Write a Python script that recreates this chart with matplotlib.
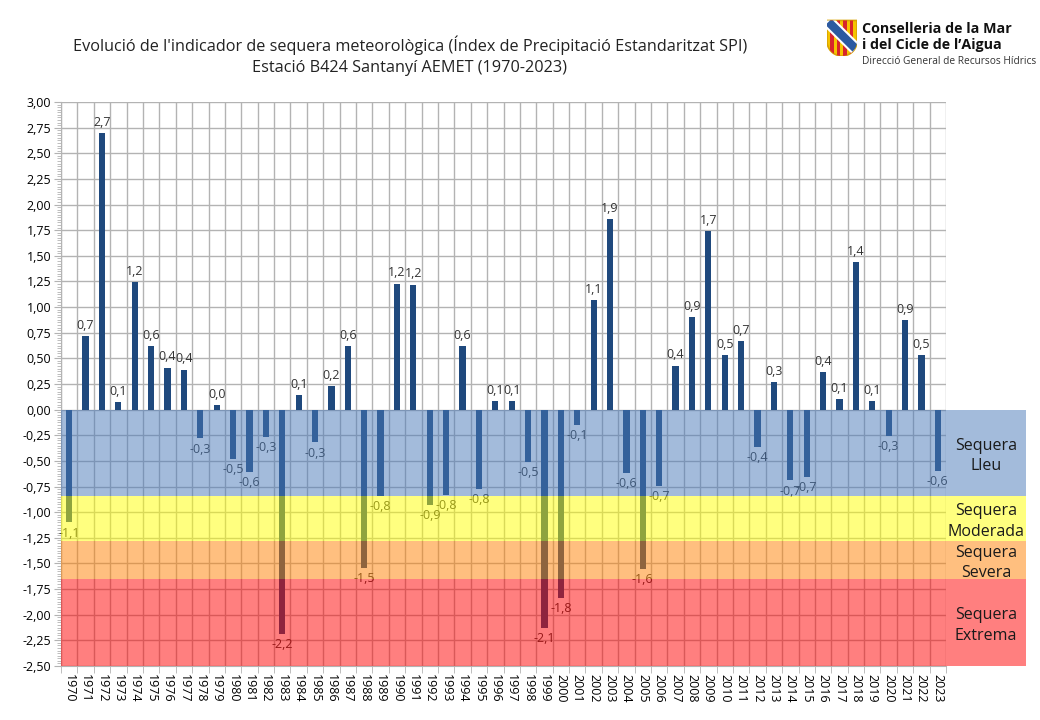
import matplotlib
matplotlib.use("Agg")
import matplotlib.pyplot as plt
import matplotlib.transforms as mtransforms
from matplotlib.patches import Rectangle, Polygon
from matplotlib.ticker import MultipleLocator, FixedLocator, FuncFormatter
import numpy as np

# ====== DATA ======
years = list(range(1970, 2024))
spi = [
    -1.10, 0.72, 2.70, 0.07, 1.24, 0.62, 0.41, 0.39, -0.28, 0.045,  # 1970-1979
    -0.48, -0.61, -0.27, -2.19, 0.145, -0.32, 0.23, 0.62, -1.54, -0.84,  # 1980-1989
    1.23, 1.22, -0.93, -0.83, 0.62, -0.77, 0.08, 0.08, -0.51, -2.13,  # 1990-1999
    -1.84, -0.15, 1.07, 1.86, -0.62, -1.55, -0.74, 0.43, 0.90, 1.74,  # 2000-2009
    0.53, 0.67, -0.36, 0.27, -0.69, -0.66, 0.37, 0.10, 1.44, 0.08,   # 2010-2019
    -0.26, 0.87, 0.53, -0.60,                                         # 2020-2023
]

# drought classes (SPI thresholds)
band_names = ["Sequera\nLleu", "Sequera\nModerada", "Sequera\nSevera", "Sequera\nExtrema"]
band_top = [0.0, -0.84, -1.28, -1.65]
band_bottom = [-0.84, -1.28, -1.65, -2.50]
band_colors = ["#4979b9", "#ffff00", "#ff8000", "#ff0000"]

title = ("Evolució de l'indicador de sequera meteorològica (Índex de Precipitació Estandaritzat SPI)\n"
         "Estació B424 Santanyí AEMET (1970-2023)")

# ====== STYLE ======
plt.rcParams['font.family'] = ['Open Sans', 'DejaVu Sans']
BAR_COLOR = "#1f497d"
GRID_COLOR = "#b3b3b3"

fig = plt.figure(figsize=(10.4, 7.2), dpi=100)
ax = fig.add_axes([61 / 1040, 1 - 666 / 720, 885 / 1040, 564 / 720])

x = np.arange(len(years))
ax.bar(x, spi, width=0.38, color=BAR_COLOR, zorder=2)

# value labels
for xi, v in zip(x, spi):
    lab = f"{v:.1f}".replace(".", ",")
    if v >= 0:
        ax.annotate(lab, (xi, v), xytext=(0, 3), textcoords="offset points",
                    ha="center", va="bottom", fontsize=9, color="#333333", zorder=3)
    else:
        ax.annotate(lab, (xi, v), xytext=(0, -3), textcoords="offset points",
                    ha="center", va="top", fontsize=9, color="#333333", zorder=3)

# drought bands, drawn over the bars and extended to the right for the labels
trans = mtransforms.blended_transform_factory(ax.transAxes, ax.transData)
ext = (1026 - 61) / 885
for name, top, bot, col in zip(band_names, band_top, band_bottom, band_colors):
    ax.add_patch(Rectangle((0, bot), ext, top - bot, transform=trans, facecolor=col,
                           alpha=0.5, edgecolor="none", clip_on=False, zorder=4))
    ax.text((1 + ext) / 2, (top + bot) / 2 - 0.03, name, transform=trans, ha="center",
            va="center", fontsize=11.5, color="#1a1a1a", linespacing=1.35, zorder=5)

# axes
ax.set_xlim(-0.5, len(years) - 0.5)
ax.set_ylim(-2.5, 3.0)
ax.yaxis.set_major_locator(MultipleLocator(0.25))
ax.yaxis.set_minor_locator(MultipleLocator(0.025))
ax.yaxis.set_major_formatter(FuncFormatter(lambda v, p: f"{v:.2f}".replace(".", ",")))
ax.set_xticks(x)
ax.set_xticklabels([str(y) for y in years], rotation=-90, fontsize=9)
ax.xaxis.set_minor_locator(FixedLocator(np.arange(-0.5, len(years), 1.0)))
ax.tick_params(axis="x", which="major", length=0, pad=6)
ax.tick_params(axis="x", which="minor", length=5, color=GRID_COLOR)
ax.tick_params(axis="y", which="major", length=5, color=GRID_COLOR, labelsize=9, pad=2)
ax.tick_params(axis="y", which="minor", length=3, color=GRID_COLOR)

ax.grid(True, axis="y", which="major", color=GRID_COLOR, linewidth=1, zorder=0)
ax.grid(True, axis="x", which="minor", color=GRID_COLOR, linewidth=1, zorder=0)
ax.set_axisbelow(True)
for side in ["top", "right"]:
    ax.spines[side].set_visible(False)
for side in ["left", "bottom"]:
    ax.spines[side].set_color(GRID_COLOR)

fig.text(410 / 1040, 1 - 56 / 720, title, ha="center", va="center", fontsize=11.7,
         color="#222222", linespacing=1.4)

# ---------- logo ----------
lax = fig.add_axes([827 / 1040, 1 - 56 / 720, 30 / 1040, 37 / 720])
lax.set_xlim(0, 1)
lax.set_ylim(0, 1.25)
lax.axis("off")
t = np.linspace(np.pi, 2 * np.pi, 30)
shield_xy = [(0, 1.2), (1, 1.2)] + [(0.5 + 0.5 * np.cos(a), 0.5 + 0.5 * np.sin(a)) for a in t[::-1]]
shield = Polygon(shield_xy, closed=True, facecolor="#f5c400", edgecolor="#d9a400", linewidth=1.2)
lax.add_patch(shield)
for sx in [0.1, 0.32, 0.54, 0.76]:
    r = Rectangle((sx, 0), 0.12, 1.2, facecolor="#d8262b", edgecolor="none")
    r.set_clip_path(shield)
    lax.add_patch(r)
band = Polygon([(-0.1, 1.05), (0.15, 1.3), (1.1, 0.35), (0.85, 0.1)], closed=True,
               facecolor="#2c5aa0", edgecolor="white", linewidth=1.5)
band.set_clip_path(shield)
lax.add_patch(band)

fig.text(862 / 1040, 1 - 29 / 720, "Conselleria de la Mar", fontsize=10.3, fontweight="bold",
         va="center", ha="left", color="#111111")
fig.text(862 / 1040, 1 - 45 / 720, "i del Cicle de l’Aigua", fontsize=10.3, fontweight="bold",
         va="center", ha="left", color="#111111")
fig.text(862 / 1040, 1 - 61 / 720, "Direcció General de Recursos Hídrics", fontsize=7.3,
         va="center", ha="left", color="#333333")

fig.savefig("out.png", dpi=100)
